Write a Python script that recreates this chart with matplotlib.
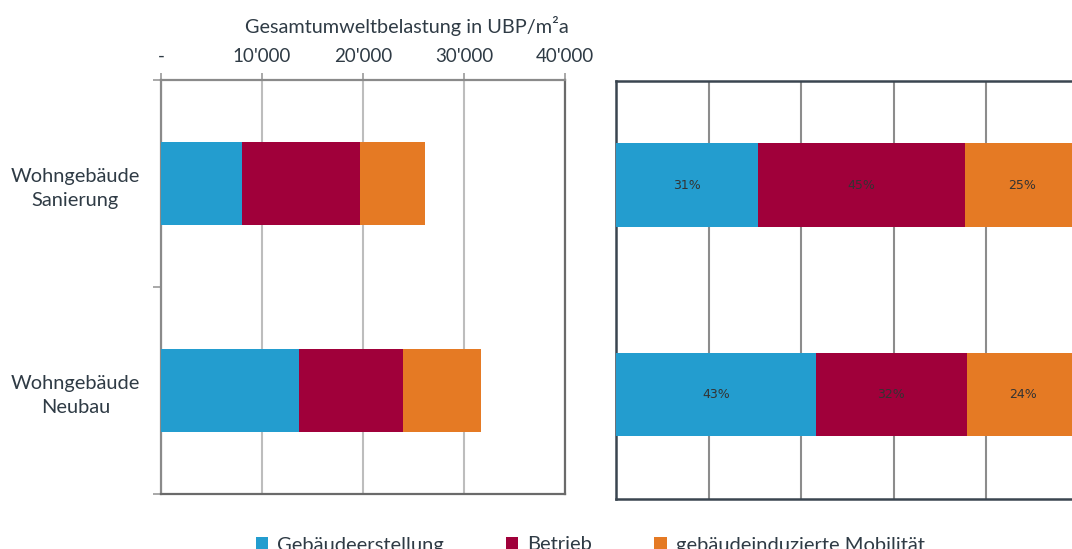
import matplotlib
matplotlib.use("Agg")
import matplotlib.pyplot as plt
from matplotlib.patches import Patch
from matplotlib.ticker import FixedLocator, FuncFormatter
import numpy as np

categories = ["Wohngebäude\nSanierung", "Wohngebäude\nNeubau"]
series_names = ["Gebäudeerstellung", "Betrieb", "gebäudeinduzierte Mobilität"]
gebaeudeerstellung = [8000, 13700]
betrieb = [11700, 10300]
mobilitaet = [6400, 7700]
x_ticks = [0, 10000, 20000, 30000, 40000]
x_label = "Gesamtumweltbelastung in UBP/m²a"

colors = ["#239dcf", "#a0003a", "#e57a24"]
text_color = "#2f3b45"
FONT = "Lato"
plt.rcParams["font.family"] = [FONT, "DejaVu Sans"]

series = [gebaeudeerstellung, betrieb, mobilitaet]
data = np.array(series, dtype=float)
totals = data.sum(axis=0)
shares = data / totals * 100

fig = plt.figure(figsize=(10.72, 5.49), dpi=100)
W, H = 1072, 549

def axrect(x0, y0, x1, y1):
    return [x0 / W, 1 - y1 / H, (x1 - x0) / W, (y1 - y0) / H]

# ---------- left panel ----------
ax = fig.add_axes(axrect(161, 80, 565, 494))
ypos = np.arange(len(categories))
left = np.zeros(len(categories))
for vals, c in zip(series, colors):
    ax.barh(ypos, vals, left=left, height=0.4, color=c, zorder=3)
    left += np.array(vals)
ax.set_xlim(0, 40000)
ax.set_ylim(len(categories) - 0.5, -0.5)
ax.xaxis.tick_top()
ax.xaxis.set_label_position("top")
ax.set_xticks(x_ticks)
ax.xaxis.set_major_formatter(FuncFormatter(lambda v, p: "-" if v == 0 else f"{int(v):,}".replace(",", "'")))
ax.tick_params(axis="x", which="major", direction="out", length=5, width=1.2,
               color="#9a9a9a", labelsize=13.5, labelcolor=text_color, pad=6)
ax.set_xlabel(x_label, fontsize=14.3, color=text_color)
ax.xaxis.set_label_coords(0.608, 1.13)
ax.xaxis.label.set_va("center")
ax.grid(axis="x", color="#bdbdbd", linewidth=1.5, zorder=0)

ax.yaxis.set_major_locator(FixedLocator([-0.5, 0.5, 1.5]))
ax.yaxis.set_major_formatter(FuncFormatter(lambda v, p: ""))
ax.yaxis.set_minor_locator(FixedLocator(list(ypos)))
ax.set_yticklabels(categories, minor=True)
ax.tick_params(axis="y", which="major", direction="out", length=6, width=1.2, color="#9a9a9a")
ax.tick_params(axis="y", which="minor", length=0, pad=15, labelsize=14.4, labelcolor=text_color)
for lbl in ax.get_yticklabels(minor=True):
    lbl.set_multialignment("center")
    lbl.set_linespacing(1.5)
for s in ["left", "top"]:
    ax.spines[s].set_color("#8a8a8a")
    ax.spines[s].set_linewidth(1.6)
for s in ["right", "bottom"]:
    ax.spines[s].set_color("#6a6a6a")
    ax.spines[s].set_linewidth(1.6)

# ---------- right panel (shares) ----------
ax2 = fig.add_axes(axrect(616, 80.7, 1079, 499))
left = np.zeros(len(categories))
for row, c in zip(shares, colors):
    ax2.barh(ypos, row, left=left, height=0.4, color=c, zorder=3)
    for i, v in enumerate(row):
        ax2.text(left[i] + v / 2, ypos[i], f"{round(v):.0f}%", ha="center", va="center",
                 fontsize=9, color="#333333", family="DejaVu Sans", zorder=4)
    left += row
ax2.set_xlim(0, 100)
ax2.set_ylim(len(categories) - 0.5, -0.5)
ax2.set_xticks([20, 40, 60, 80])
ax2.set_yticks([])
ax2.tick_params(axis="x", length=0, labelbottom=False)
ax2.grid(axis="x", color="#8c8c8c", linewidth=1.5, zorder=0)
for s in ax2.spines.values():
    s.set_color("#3a4550")
    s.set_linewidth(1.8)

# ---------- legend ----------
handles = [Patch(facecolor=c, edgecolor="none") for c in colors]
fig.legend(handles, series_names, loc="center", bbox_to_anchor=(590 / W, 1 - 545 / H),
           ncol=3, frameon=False, fontsize=14.5, labelcolor=text_color,
           handlelength=0.6, handleheight=0.6, handletextpad=0.45, columnspacing=3.1,
           borderpad=0, borderaxespad=0)

fig.savefig("out.png", dpi=100)
